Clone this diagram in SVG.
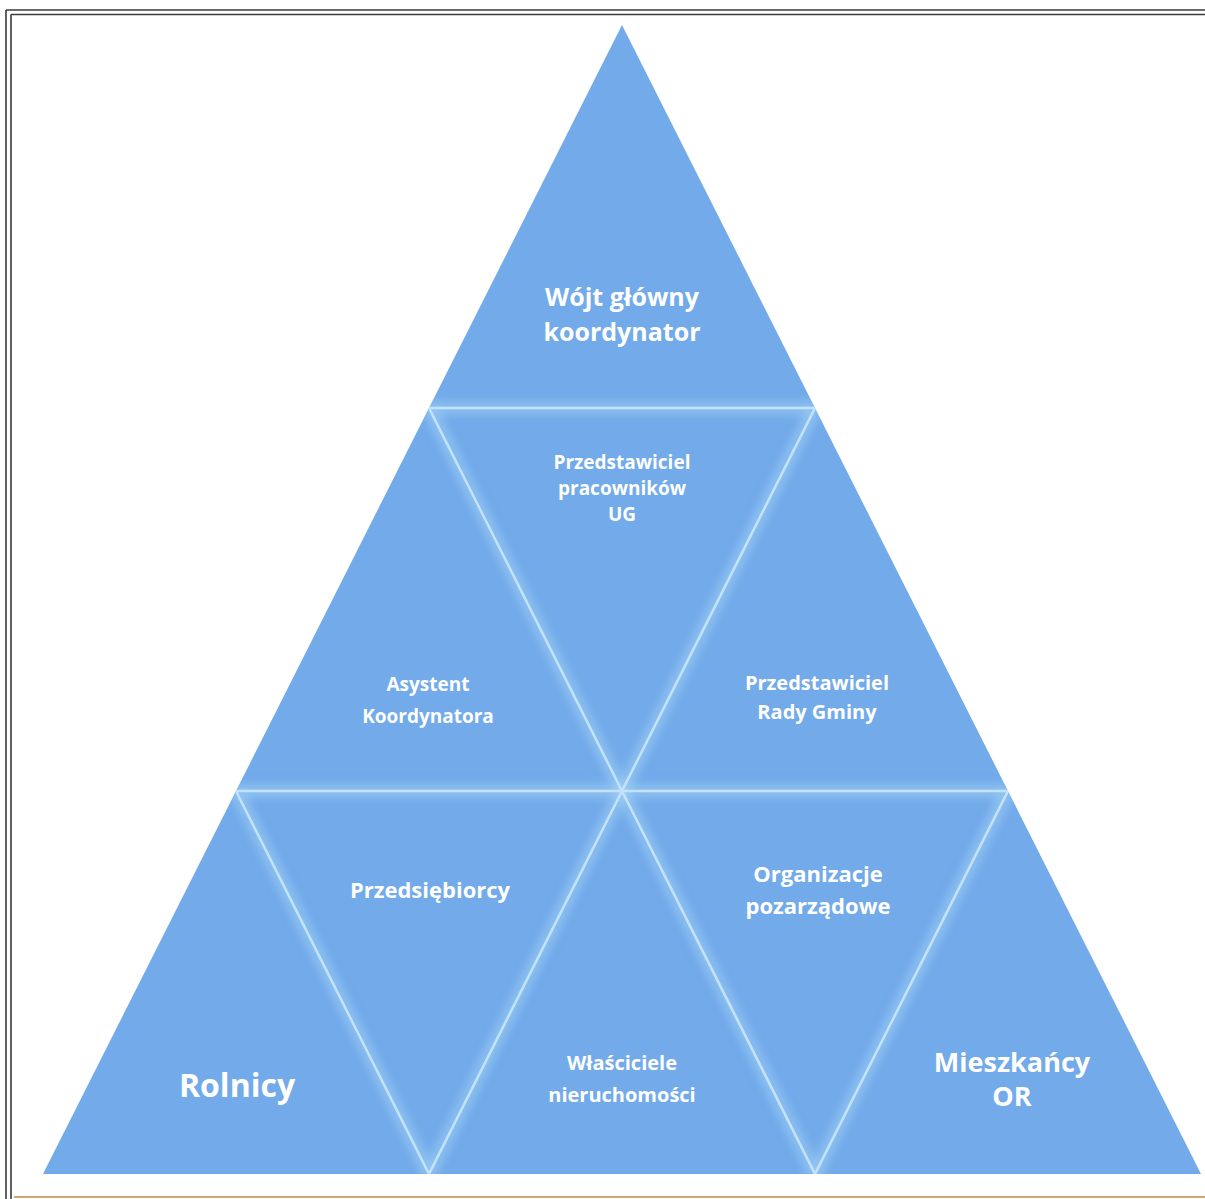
<svg xmlns="http://www.w3.org/2000/svg" width="1205" height="1199" viewBox="0 0 1205 1199">
<style>
.tri{fill:#72aaea}
.lbl{font-family:"Open Sans","Liberation Sans",sans-serif;font-weight:bold;fill:#ffffff;text-anchor:middle}
.sep{stroke:#c4e3fb;stroke-width:2.5;fill:none;stroke-linecap:round}
.glow{stroke:#a3d3f8;stroke-width:14;fill:none;opacity:0.5}
.frame{stroke:#3a3a3a;stroke-width:1.6;fill:none}
</style>
<defs>
<filter id="blur" x="-5%" y="-5%" width="110%" height="110%"><feGaussianBlur stdDeviation="4"/></filter>
<clipPath id="big"><polygon points="622,25 43,1174 1201,1174"/></clipPath>
</defs>
<rect width="1205" height="1199" fill="#ffffff"/>
<g id="frame">
<line class="frame" x1="6" y1="10" x2="1205" y2="10"/>
<line class="frame" x1="11" y1="14.5" x2="1205" y2="14.5"/>
<line class="frame" x1="6" y1="10" x2="6" y2="1199"/>
<line class="frame" x1="11" y1="14.5" x2="11" y2="1199"/>
<line x1="14" y1="1197" x2="1205" y2="1197" stroke="#c9a77a" stroke-width="2"/>
</g>
<g id="n1"><polygon class="tri" points="622,25 429,408 815,408"/><text class="lbl" x="622" y="306" font-size="25">Wójt główny</text><text class="lbl" x="622" y="341" font-size="25">koordynator</text></g>
<g id="n2"><polygon class="tri" points="429,408 236,791 622,791"/><text class="lbl" x="428" y="691" font-size="19">Asystent</text><text class="lbl" x="428" y="723" font-size="19">Koordynatora</text></g>
<g id="n3"><polygon class="tri" points="429,408 815,408 622,791"/><text class="lbl" x="622" y="469" font-size="19">Przedstawiciel</text><text class="lbl" x="622" y="495" font-size="19">pracowników</text><text class="lbl" x="622" y="521" font-size="19">UG</text></g>
<g id="n4"><polygon class="tri" points="815,408 622,791 1008,791"/><text class="lbl" x="817" y="690" font-size="20">Przedstawiciel</text><text class="lbl" x="817" y="719" font-size="20">Rady Gminy</text></g>
<g id="n5"><polygon class="tri" points="236,791 43,1174 429,1174"/><text class="lbl" x="237" y="1097" font-size="32">Rolnicy</text></g>
<g id="n6"><polygon class="tri" points="236,791 622,791 429,1174"/><text class="lbl" x="430" y="898" font-size="22">Przedsiębiorcy</text></g>
<g id="n7"><polygon class="tri" points="622,791 429,1174 815,1174"/><text class="lbl" x="622" y="1070" font-size="20">Właściciele</text><text class="lbl" x="622" y="1102" font-size="20">nieruchomości</text></g>
<g id="n8"><polygon class="tri" points="622,791 1008,791 815,1174"/><text class="lbl" x="818" y="882" font-size="22">Organizacje</text><text class="lbl" x="818" y="914" font-size="22">pozarządowe</text></g>
<g id="n9"><polygon class="tri" points="1008,791 815,1174 1201,1174"/><text class="lbl" x="1012" y="1072" font-size="27">Mieszkańcy</text><text class="lbl" x="1012" y="1106" font-size="27">OR</text></g>
<g id="connectors" clip-path="url(#big)">
<g filter="url(#blur)">
<line class="glow" x1="429" y1="408" x2="815" y2="408"/>
<line class="glow" x1="236" y1="791" x2="1008" y2="791"/>
<line class="glow" x1="429" y1="408" x2="815" y2="1174"/>
<line class="glow" x1="815" y1="408" x2="429" y2="1174"/>
<line class="glow" x1="236" y1="791" x2="429" y2="1174"/>
<line class="glow" x1="1008" y1="791" x2="815" y2="1174"/>
</g>
<line class="sep" x1="429" y1="408" x2="815" y2="408"/>
<line class="sep" x1="236" y1="791" x2="1008" y2="791"/>
<line class="sep" x1="429" y1="408" x2="815" y2="1174"/>
<line class="sep" x1="815" y1="408" x2="429" y2="1174"/>
<line class="sep" x1="236" y1="791" x2="429" y2="1174"/>
<line class="sep" x1="1008" y1="791" x2="815" y2="1174"/>
</g>
</svg>
